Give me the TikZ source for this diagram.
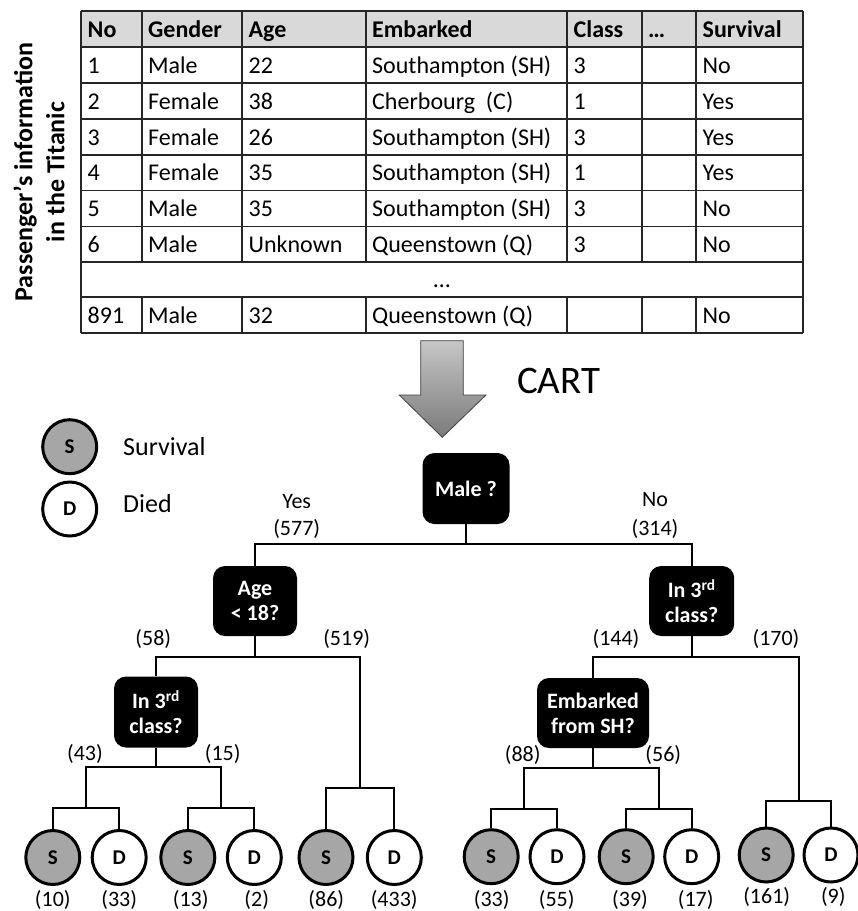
\documentclass[tikz,border=0pt]{standalone}
\usepackage{fontspec}
\setmainfont{Carlito}
\newcommand\myfs[2]{\fontsize{#1}{#2}\selectfont}
\definecolor{hdrgray}{HTML}{D9D9D9}
\definecolor{leafgray}{HTML}{A6A6A6}
\definecolor{tabline}{HTML}{262626}
\definecolor{arrowtop}{HTML}{C6C6C6}
\definecolor{arrowbot}{HTML}{7A7A7A}
\definecolor{arrowline}{HTML}{404040}
\tikzset{
  tline/.style={line width=1.8pt, draw=tabline},
  cell/.style={anchor=base west, inner sep=0pt, font=\myfs{24}{28}},
  hcell/.style={cell, font=\myfs{24}{28}\bfseries},
  dec/.style={fill=black, text=white, rounded corners=12pt, inner sep=0pt,
    align=center, font=\myfs{22}{25}\bfseries},
  leafbase/.style={circle, draw=black, line width=3pt, minimum size=54pt,
    inner sep=0pt, font=\myfs{21}{21}\bfseries},
  leafS/.style={leafbase, fill=leafgray},
  leafD/.style={leafbase, fill=white},
  lab/.style={anchor=base, inner sep=0pt, font=\myfs{22}{26}},
  edge/.style={line width=1.8pt, draw=black},
}
\begin{document}
\begin{tikzpicture}[x=1pt,y=-1pt]
\useasboundingbox (0,0) rectangle (858,911);

% ---------- table ----------
\fill[hdrgray] (81,11) rectangle (803,47);
\foreach \yy in {11,47,83,119,155,190.5,226.5,262,297,333}
  \draw[tline] (81,\yy) -- (803,\yy);
\draw[tline] (81,11) -- (81,333);
\draw[tline] (803,11) -- (803,333);
\foreach \xx in {141.7,242.3,366,567.3,641.7,696} {
  \draw[tline] (\xx,11) -- (\xx,262);
  \draw[tline] (\xx,297) -- (\xx,333);
}
% header
\node[hcell] (h1) at (87.5,37) {No};
\node[hcell] (h2) at (148,37) {Gender};
\node[hcell] (h3) at (248.5,37) {Age};
\node[hcell] (h4) at (372,37) {Embarked};
\node[hcell] (h5) at (573.5,37) {Class};
\node[hcell] (h6) at (648,37) {…};
\node[hcell] (h7) at (702.5,37) {Survival};
% rows
\foreach \r/\yb/\ca/\cb/\cc/\cd/\ce/\cg in {
  1/73/1/Male/22/Southampton (SH)/3/No,
  2/109/2/Female/38/Cherbourg~ (C)/1/Yes,
  3/145/3/Female/26/Southampton (SH)/3/Yes,
  4/180.7/4/Female/35/Southampton (SH)/1/Yes,
  5/216.5/5/Male/35/Southampton (SH)/3/No,
  6/252/6/Male/Unknown/Queenstown (Q)/3/No,
  8/323/891/Male/32/Queenstown (Q)/{}/No} {
  \node[cell] (c\r-1) at (87.5,\yb) {\ca};
  \node[cell] (c\r-2) at (148,\yb) {\cb};
  \node[cell] (c\r-3) at (248.5,\yb) {\cc};
  \node[cell] (c\r-4) at (372,\yb) {\cd};
  \node[cell] (c\r-5) at (573.5,\yb) {\ce};
  \node[cell] (c\r-7) at (702.5,\yb) {\cg};
}
\node[cell, anchor=base] (cdots) at (442,287.5) {…};

% side title
\node[rotate=90, align=center, inner sep=0pt, font=\myfs{26}{32}\bfseries] (title)
  at (39,172) {Passenger’s information\\in the Titanic};

% ---------- big arrow ----------
\shade[top color=arrowtop, bottom color=arrowbot, draw=arrowline, line width=0.8pt]
  (420.7,340.7) -- (463.3,340.7) -- (463.3,395) -- (486,395) -- (442.3,437.3)
  -- (399.3,395) -- (420.7,395) -- cycle;
\node[anchor=base west, inner sep=0pt, font=\myfs{39}{40}] (cart) at (517,393) {CART};

% ---------- legend ----------
\node[leafS] (legS) at (69.7,446.7) {S};
\node[leafD] (legD) at (69.7,509) {D};
\node[anchor=base west, inner sep=0pt, font=\myfs{26}{30}] (legSt) at (123,455) {Survival};
\node[anchor=base west, inner sep=0pt, font=\myfs{26}{30}] (legDt) at (123,512.7) {Died};

% ---------- decision nodes ----------
\node[dec, minimum width=87pt, minimum height=71pt] (male) at (466,488.5) {Male ?};
\node[dec, minimum width=84pt, minimum height=70pt] (age) at (255,601) {Age\\< 18?};
\node[dec, minimum width=85pt, minimum height=70pt] (cls1) at (691.7,601) {In 3\textsuperscript{rd}\\class?};
\node[dec, minimum width=84pt, minimum height=71pt] (cls2) at (156,712) {In 3\textsuperscript{rd}\\class?};
\node[dec, minimum width=112pt, minimum height=70pt] (emb) at (593,713) {Embarked\\from SH?};

% ---------- leaves ----------
\node[leafS] (s1) at (52.8,857.5) {S};
\node[leafD] (d1) at (119.2,857.5) {D};
\node[leafS] (s2) at (187.8,857.5) {S};
\node[leafD] (d2) at (254.3,857.5) {D};
\node[leafS] (s3) at (326,857.5) {S};
\node[leafD] (d3) at (394.3,857.5) {D};
\node[leafS] (s4) at (491.2,856.7) {S};
\node[leafD] (d4) at (557,856.7) {D};
\node[leafS] (s5) at (626.2,856.7) {S};
\node[leafD] (d5) at (691.7,856.7) {D};
\node[leafS] (s6) at (766.2,855) {S};
\node[leafD] (d6) at (831,855) {D};

% ---------- connectors ----------
\coordinate (b0) at (466,544);
\draw[edge] (male.south) -- (b0);
\draw[edge] (age.north) |- (b0) -| (cls1.north);

\coordinate (b1) at (255,657);
\coordinate (r1) at (360,788);
\draw[edge] (age.south) -- (b1);
\draw[edge] (cls2.north) |- (b1) -| (r1);
\draw[edge] (s3.north) |- (r1) -| (d3.north);

\coordinate (b2) at (691.7,657);
\coordinate (r2) at (798.6,800.7);
\draw[edge] (cls1.south) -- (b2);
\draw[edge] (emb.north) |- (b2) -| (r2);
\draw[edge] (s6.north) |- (r2) -| (d6.north);

\coordinate (b3) at (156,767);
\coordinate (p1) at (86,808);
\coordinate (p2) at (221,808);
\draw[edge] (cls2.south) -- (b3);
\draw[edge] (p1) |- (b3) -| (p2);
\draw[edge] (s1.north) |- (p1) -| (d1.north);
\draw[edge] (s2.north) |- (p2) -| (d2.north);

\coordinate (b4) at (593,767.7);
\coordinate (p3) at (524.1,809);
\coordinate (p4) at (659,809);
\draw[edge] (emb.south) -- (b4);
\draw[edge] (p3) |- (b4) -| (p4);
\draw[edge] (s4.north) |- (p3) -| (d4.north);
\draw[edge] (s5.north) |- (p4) -| (d5.north);

% ---------- labels ----------
\node[lab] (lyes) at (296.7,508) {Yes};
\node[lab] (l577) at (296.7,535) {(577)};
\node[lab] (lno) at (655,506.7) {No};
\node[lab] (l314) at (655,535) {(314)};
\node[lab] (l58) at (153.3,645) {(58)};
\node[lab] (l519) at (346.7,645) {(519)};
\node[lab] (l144) at (616,645) {(144)};
\node[lab] (l170) at (776,645) {(170)};
\node[lab] (l43) at (85,760) {(43)};
\node[lab] (l15) at (222.7,760) {(15)};
\node[lab] (l88) at (522.7,761.7) {(88)};
\node[lab] (l56) at (663.3,761.7) {(56)};

\node[lab] (n1) at (52.8,906) {(10)};
\node[lab] (n2) at (119.2,906) {(33)};
\node[lab] (n3) at (190.7,906) {(13)};
\node[lab] (n4) at (256.7,906) {(2)};
\node[lab] (n5) at (326.3,906) {(86)};
\node[lab] (n6) at (394.2,906) {(433)};
\node[lab] (n7) at (491.7,906) {(33)};
\node[lab] (n8) at (556.7,906) {(55)};
\node[lab] (n9) at (630,906) {(39)};
\node[lab] (n10) at (695.7,906) {(17)};
\node[lab] (n11) at (766.7,903) {(161)};
\node[lab] (n12) at (833.3,903) {(9)};
\end{tikzpicture}
\end{document}
